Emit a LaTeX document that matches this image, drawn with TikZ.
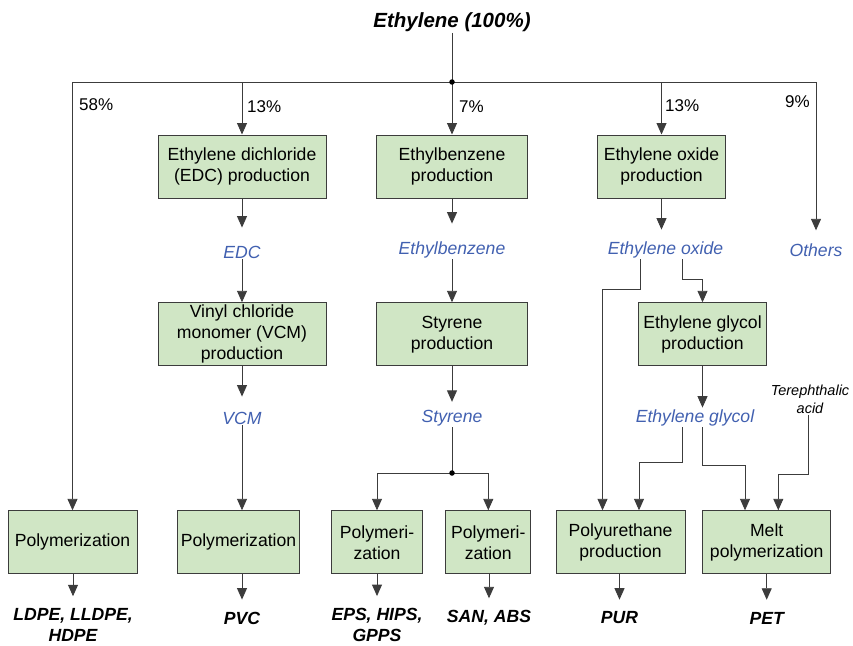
\documentclass[tikz,border=0pt]{standalone}
\usepackage{fontspec}
\setmainfont{Liberation Sans}
\usepackage{xcolor}
\usepackage{tikz}
\usetikzlibrary{arrows.meta,calc}
\definecolor{boxgreen}{HTML}{D0E6C5}
\definecolor{matblue}{HTML}{4160B0}
\definecolor{linegray}{HTML}{3C3C3C}

\tikzset{
  procbox/.style={draw=linegray, fill=boxgreen, line width=1pt, minimum height=63pt,
    align=center, inner sep=2pt, font=\fontsize{17.6}{21}\selectfont},
  matlbl/.style={text=matblue, inner sep=1pt, font=\fontsize{17.6}{21}\selectfont\itshape},
  prodlbl/.style={inner sep=1pt, align=center, font=\fontsize{17.6}{21}\selectfont\bfseries\itshape},
  pct/.style={inner sep=1pt, font=\fontsize{17}{20}\selectfont},
  flow/.style={draw=linegray, line width=0.9pt, -{Triangle[length=11.5pt,width=10pt]}},
  link/.style={draw=linegray, line width=0.9pt},
  dot/.style={circle, fill=black, inner sep=0pt, minimum size=5.5pt}
}

\begin{document}
\begin{tikzpicture}[x=1pt,y=-1pt]
\useasboundingbox (0,0) rectangle (853,645);

% feed
\node[inner sep=1pt, font=\fontsize{20.5}{24}\selectfont\bfseries\itshape] (title) at (452,22) {Ethylene (100\%)};
\coordinate (split) at (452,82);

% first conversion step
\node[procbox, minimum width=168pt] (edc) at (242,166.5) {Ethylene dichloride\\(EDC) production};
\node[procbox, minimum width=151pt] (eb) at (452,166.5) {Ethylbenzene\\production};
\node[procbox, minimum width=128pt] (eo) at (661.5,166.5) {Ethylene oxide\\production};

\node[matlbl] (edclbl) at (242,252) {EDC};
\node[matlbl] (eblbl) at (452,250) {Ethylbenzene};
\node[matlbl] (eolbl) at (665.5,250) {Ethylene oxide};
\node[matlbl] (others) at (816,250) {Others};

% second conversion step
\node[procbox, minimum width=168pt] (vcm) at (242,334.3) {Vinyl chloride\\monomer (VCM)\\production};
\node[procbox, minimum width=151pt] (sty) at (452,334.3) {Styrene\\production};
\node[procbox, minimum width=128pt] (eg) at (702.5,334.3) {Ethylene glycol\\production};

\node[matlbl] (vcmlbl) at (242,418) {VCM};
\node[matlbl] (stylbl) at (452,418) {Styrene};
\node[matlbl] (eglbl) at (695,418) {Ethylene glycol};
\node[inner sep=1pt, align=center, font=\fontsize{14.5}{17.5}\selectfont\itshape] (tpa) at (810,399.5) {Terephthalic\\acid};
\coordinate (stsplit) at (452,473);

% polymer plants
\node[procbox, minimum width=129pt] (poly1) at (72.5,542.3) {Polymerization};
\node[procbox, minimum width=122pt] (poly2) at (238.5,542.3) {Polymerization};
\node[procbox, minimum width=91pt] (poly3) at (377,542.3) {Polymeri-\\zation};
\node[procbox, minimum width=85pt] (poly4) at (488.3,542.3) {Polymeri-\\zation};
\node[procbox, minimum width=129pt] (pu) at (620.5,542.3) {Polyurethane\\production};
\node[procbox, minimum width=128pt] (melt) at (766.7,542.3) {Melt\\polymerization};

\node[prodlbl] (ldpe) at (73,625) {LDPE, LLDPE,\\HDPE};
\node[prodlbl] (pvc) at (242,618) {PVC};
\node[prodlbl] (eps) at (377,625) {EPS, HIPS,\\GPPS};
\node[prodlbl] (san) at (489,618) {SAN, ABS};
\node[prodlbl] (pur) at (619.5,618) {PUR};
\node[prodlbl] (pet) at (766.7,618) {PET};

% split of the feed
\draw[link] (title) -- (split);
\draw[flow] (split) -| (poly1);
\draw[flow] (split) -| (edc);
\draw[flow] (split) -- (eb);
\draw[flow] (split) -| (eo);
\draw[flow, shorten >=12pt] (split) -| (others);
\node[dot] at (split) {};

\node[pct, anchor=west] at (78,105) {58\%};
\node[pct, anchor=west] at (246,106.7) {13\%};
\node[pct, anchor=west] at (458,106.7) {7\%};
\node[pct, anchor=west] at (664,106) {13\%};
\node[pct, anchor=east] at (811,102) {9\%};

% chlorine chain
\draw[flow, shorten >=17pt] (edc) -- (edclbl);
\draw[flow] (edclbl) -- (vcm);
\draw[flow, shorten >=14pt] (vcm) -- (vcmlbl);
\draw[flow] (vcmlbl) -- (vcmlbl |- poly2.north);

% styrene chain
\draw[flow, shorten >=17pt] (eb) -- (eblbl);
\draw[flow] (eblbl) -- (sty);
\draw[flow, shorten >=7pt] (sty) -- (stylbl);
\draw[link] (stylbl) -- (stsplit);
\draw[flow] (stsplit) -| (poly3);
\draw[flow] (stsplit) -| (poly4);
\node[dot] at (stsplit) {};

% oxide chain
\draw[flow, shorten >=11pt] (eo) -- (eo |- eolbl.north);
\draw[flow] ([xshift=-25.5pt]eolbl.south) |- (602.5,289) -- ([xshift=-18pt]pu.north);
\draw[flow] ([xshift=16.5pt]eolbl.south) |- (702.5,279) -- (eg);
\draw[flow, shorten >=1pt] (eg) -- (eg |- eglbl.north);
\draw[flow] ([xshift=-13pt]eglbl.south) |- (639,462) -- ([xshift=18.5pt]pu.north);
\draw[flow] ([xshift=7.5pt]eglbl.south) |- (745,465) -- ([xshift=-21.7pt]melt.north);
\draw[flow] ([xshift=-1.7pt]tpa.south) |- (778.3,474.7) -- ([xshift=11.6pt]melt.north);

% products
\foreach \plant/\prod in {poly1/ldpe, poly2/pvc, poly3/eps, poly4/san, pu/pur, melt/pet}
  \draw[flow, shorten >=11pt] (\plant.south -| \prod.north) -- (\prod.north);

\end{tikzpicture}
\end{document}
